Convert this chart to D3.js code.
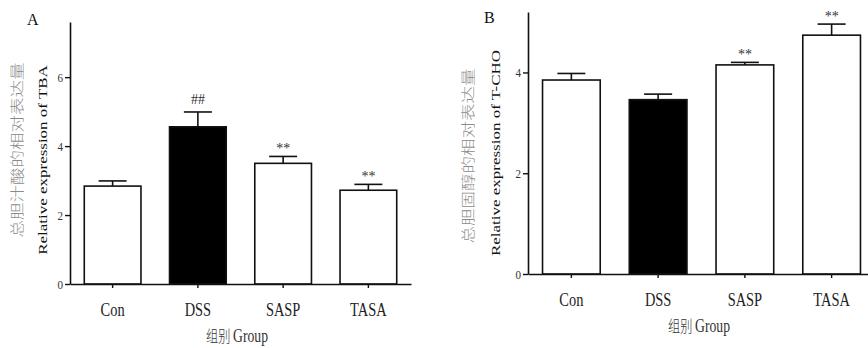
<!DOCTYPE html>
<html>
<head>
<meta charset="utf-8">
<script src="https://cdn.jsdelivr.net/npm/d3@7"></script>
<style>
  html, body { margin: 0; padding: 0; background: #fff; }
  svg { display: block; }
</style>
</head>
<body>
<div id="chart"></div>
<script>
// Groups shared by both panels.
const groups = ["Con", "DSS", "SASP", "TASA"];
const barFills = ["#fff", "#000", "#fff", "#fff"];

// Panel A: total bile acid.
const tbaMean = [2.84, 4.56, 3.5, 2.72];
const tbaErr = [0.15, 0.43, 0.2, 0.17];
const tbaMarks = ["", "##", "**", "**"];
const tbaTicks = [0, 2, 4, 6];

// Panel B: total cholesterol.
const tchoMean = [3.85, 3.46, 4.15, 4.74];
const tchoErr = [0.13, 0.11, 0.05, 0.22];
const tchoMarks = ["", "", "**", "**"];
const tchoTicks = [0, 2, 4];

const width = 868;
const height = 348;
const serif = "'Liberation Serif', 'Times New Roman', serif";
const cjk = "'Noto Sans CJK SC', sans-serif";
// The original figure is squeezed horizontally, so the text is too.
const squeeze = 0.76;

const svg = d3
  .select("#chart")
  .append("svg")
  .attr("width", width)
  .attr("height", height);

/**
 * Draws one bar panel with error bars.
 */
function panel(mean, err, marks, ticks, opt) {
  const g = svg.append("g");

  const x = d3
    .scaleBand()
    .domain(groups)
    .range([opt.left, opt.right])
    .paddingInner(0.335)
    .paddingOuter(0.1675);

  const y = d3
    .scaleLinear()
    .domain([0, opt.yMax])
    .range([opt.bottom, opt.top]);

  const data = groups.map((d, i) => ({
    group: d,
    mean: mean[i],
    err: err[i],
    mark: marks[i],
    fill: barFills[i],
  }));

  // Bars.
  g.selectAll("rect.bar")
    .data(data)
    .enter()
    .append("rect")
    .attr("class", "bar")
    .attr("x", (d) => x(d.group))
    .attr("width", x.bandwidth())
    .attr("y", (d) => y(d.mean))
    .attr("height", (d) => y(0) - y(d.mean))
    .attr("fill", (d) => d.fill)
    .attr("stroke", "#111")
    .attr("stroke-width", 1.6);

  // Error bars (upper half only).
  const capW = 14;
  const eb = g.selectAll("g.err").data(data).enter().append("g");
  eb.append("line")
    .attr("x1", (d) => x(d.group) + x.bandwidth() / 2)
    .attr("x2", (d) => x(d.group) + x.bandwidth() / 2)
    .attr("y1", (d) => y(d.mean))
    .attr("y2", (d) => y(d.mean + d.err))
    .attr("stroke", "#111")
    .attr("stroke-width", 1.6);
  eb.append("line")
    .attr("x1", (d) => x(d.group) + x.bandwidth() / 2 - capW)
    .attr("x2", (d) => x(d.group) + x.bandwidth() / 2 + capW)
    .attr("y1", (d) => y(d.mean + d.err))
    .attr("y2", (d) => y(d.mean + d.err))
    .attr("stroke", "#111")
    .attr("stroke-width", 1.6);

  // Significance marks.
  g.selectAll("text.mark")
    .data(data.filter((d) => d.mark))
    .enter()
    .append("text")
    .attr("class", "mark")
    .attr("x", (d) => x(d.group) + x.bandwidth() / 2)
    .attr("y", (d) => y(d.mean + d.err) - (d.mark === "##" ? 8 : 3))
    .attr("text-anchor", "middle")
    .style("font-family", serif)
    .style("font-size", "14px")
    .style("fill", "#333")
    .text((d) => d.mark);

  // Y axis.
  const yAxis = g
    .append("g")
    .attr("transform", `translate(${opt.left},0)`)
    .call(
      d3
        .axisLeft(y)
        .tickValues(ticks)
        .tickFormat(d3.format("d"))
        .tickSize(5)
        .tickSizeOuter(0)
    );
  yAxis.select(".domain").attr("stroke", "#111").attr("stroke-width", 1.6);
  yAxis.selectAll(".tick line").attr("stroke", "#111").attr("stroke-width", 1.4);
  yAxis
    .selectAll(".tick text")
    .attr("x", 0)
    .attr("transform", "translate(-7,0) scale(0.85,1)")
    .style("font-family", serif)
    .style("font-size", "13px")
    .style("fill", "#333");

  // X axis.
  const xAxis = g
    .append("g")
    .attr("transform", `translate(0,${opt.bottom})`)
    .call(d3.axisBottom(x).tickSize(4).tickPadding(14.5).tickSizeOuter(0));
  xAxis.select(".domain").attr("stroke", "#111").attr("stroke-width", 1.6);
  xAxis.selectAll(".tick line").attr("stroke", "#111").attr("stroke-width", 1.4);
  xAxis
    .selectAll(".tick text")
    .attr("transform", `scale(${squeeze},1)`)
    .style("font-family", serif)
    .style("font-size", "19px")
    .style("fill", "#222");

  // X title.
  g.append("text")
    .attr("transform", `translate(${opt.groupX},${opt.bottom + 58}) scale(${squeeze},1)`)
    .attr("text-anchor", "middle")
    .style("fill", "#333")
    .call((t) => {
      t.append("tspan").style("font-family", cjk).style("font-size", "16px").style("font-weight", 300).text("组别 ");
      t.append("tspan").style("font-family", serif).style("font-size", "18px").text("Group");
    });

  // Y titles.
  g.append("text")
    .attr(
      "transform",
      `translate(${opt.left - opt.enOffset},${opt.enY}) rotate(-90) scale(1,${squeeze})`
    )
    .attr("text-anchor", "middle")
    .attr("dy", "0.35em")
    .style("font-family", serif)
    .style("font-size", "17px")
    .style("fill", "#111")
    .text(opt.enTitle);
  g.append("text")
    .attr(
      "transform",
      `translate(${opt.left - opt.cnOffset},${opt.cnY}) rotate(-90) scale(1,${squeeze})`
    )
    .attr("text-anchor", "middle")
    .attr("dy", "0.35em")
    .style("font-family", cjk)
    .style("font-size", "17.5px")
    .style("font-weight", 300)
    .style("fill", "#8a8a8a")
    .text(opt.cnTitle);

  // Panel letter.
  g.append("text")
    .attr("x", opt.letterX)
    .attr("y", opt.letterY)
    .style("font-family", serif)
    .style("font-size", "16px")
    .style("fill", "#111")
    .text(opt.letter);
}

panel(tbaMean, tbaErr, tbaMarks, tbaTicks, {
  left: 70,
  right: 411,
  top: 22,
  bottom: 284,
  yMax: 7.6,
  groupX: 237,
  enTitle: "Relative expression of TBA",
  enOffset: 28,
  enY: 160,
  cnTitle: "总胆汁酸的相对表达量",
  cnOffset: 53,
  cnY: 150,
  letter: "A",
  letterX: 27,
  letterY: 25,
});

panel(tchoMean, tchoErr, tchoMarks, tchoTicks, {
  left: 528,
  right: 875,
  top: 12,
  bottom: 274,
  yMax: 5.2,
  groupX: 699,
  enTitle: "Relative expression of T-CHO",
  enOffset: 33,
  enY: 153,
  cnTitle: "总胆固醇的相对表达量",
  cnOffset: 60,
  cnY: 156,
  letter: "B",
  letterX: 484,
  letterY: 23,
});
</script>
</body>
</html>
